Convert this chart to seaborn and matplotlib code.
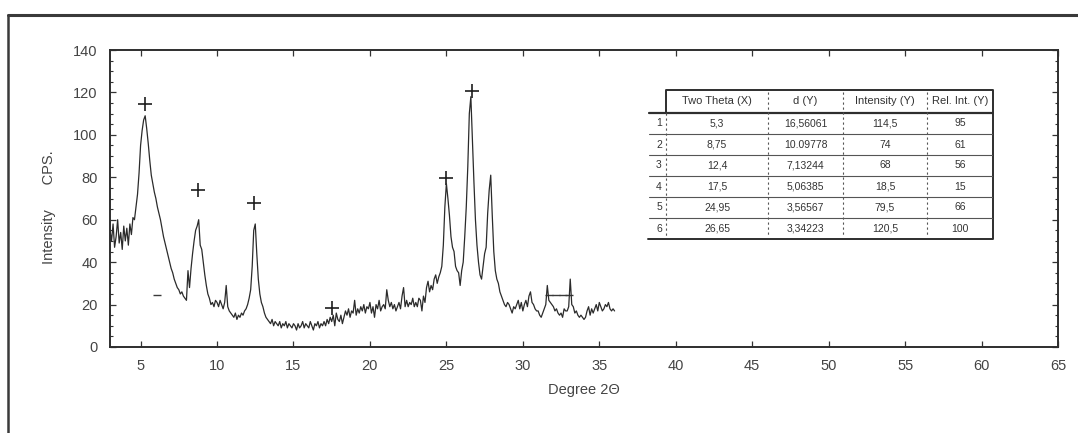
import numpy as np
import pandas as pd
import matplotlib
matplotlib.use('Agg')
import matplotlib.pyplot as plt
from matplotlib.lines import Line2D
from matplotlib.ticker import MultipleLocator
import seaborn as sns

# XRD scan at 0.1 degree steps (3.0 .. 36.0)
two_theta = np.round(np.arange(3.0, 36.05, 0.1), 2)
intensity = [
    55, 50, 58, 47, 52, 60, 49, 54, 46, 57,   # 3
    50, 56, 48, 58, 53, 61, 60, 66, 72, 82,   # 4
    95, 102, 107, 109, 103, 96, 88, 81, 77, 73,  # 5
    70, 66, 63, 60, 56, 52, 49, 46, 43, 40,   # 6
    37, 35, 32, 30, 28, 27, 25, 26, 24, 23,   # 7
    22, 36, 28, 37, 44, 50, 55, 57, 60, 48,   # 8
    46, 40, 34, 29, 25, 23, 20, 21, 19, 22,   # 9
    21, 19, 22, 20, 18, 21, 29, 19, 17, 16,   # 10
    15, 14, 16, 13, 15, 14, 16, 15, 17, 18,   # 11
    20, 23, 27, 38, 55, 58, 44, 32, 25, 21,   # 12
    19, 16, 14, 13, 12, 11, 13, 10, 12, 11,   # 13
    10, 12, 9, 11, 10, 12, 9, 11, 10, 9,      # 14
    11, 10, 8, 11, 9, 10, 12, 9, 11, 10,      # 15
    9, 12, 10, 8, 11, 10, 12, 9, 11, 10,      # 16
    12, 10, 13, 11, 14, 12, 15, 10, 16, 13,   # 17
    12, 15, 11, 14, 17, 15, 18, 14, 17, 16,   # 18
    22, 15, 18, 16, 19, 17, 20, 16, 19, 18,   # 19
    21, 16, 19, 14, 20, 18, 22, 17, 19, 20,   # 20
    18, 27, 22, 19, 21, 18, 20, 17, 19, 21,   # 21
    18, 24, 28, 19, 22, 19, 21, 20, 23, 19,   # 22
    21, 19, 23, 22, 17, 24, 21, 28, 31, 26,   # 23
    29, 27, 32, 34, 30, 33, 35, 38, 48, 66,   # 24
    77, 70, 62, 52, 47, 45, 38, 36, 35, 29,   # 25
    36, 40, 52, 66, 85, 110, 118, 98, 78, 60,  # 26
    48, 40, 34, 32, 38, 44, 47, 63, 74, 81,   # 27
    62, 45, 36, 32, 30, 26, 24, 22, 20, 19,   # 28
    21, 20, 18, 16, 19, 18, 20, 22, 18, 21,   # 29
    17, 20, 22, 19, 24, 26, 21, 20, 18, 17,   # 30
    17, 15, 14, 16, 18, 20, 29, 22, 21, 20,   # 31
    19, 17, 18, 16, 15, 16, 14, 18, 17, 17,   # 32
    19, 32, 20, 19, 16, 17, 15, 14, 15, 14,   # 33
    13, 14, 17, 19, 15, 18, 16, 18, 20, 17,   # 34
    21, 19, 17, 18, 20, 19, 21, 18, 17, 18,   # 35
    17,
]

# peak list (table + crosses)
row_no = ['1', '2', '3', '4', '5', '6']
peak_x = [5.3, 8.75, 12.4, 17.5, 24.95, 26.65]
peak_x_txt = ['5,3', '8,75', '12,4', '17,5', '24,95', '26,65']
d_txt = ['16,56061', '10.09778', '7,13244', '5,06385', '3,56567', '3,34223']
peak_int = [114.5, 74, 68, 18.5, 79.5, 120.5]
int_txt = ['114,5', '74', '68', '18,5', '79,5', '120,5']
rel_txt = ['95', '61', '56', '15', '66', '100']
headers = ['Two Theta (X)', 'd (Y)', 'Intensity (Y)', 'Rel. Int. (Y)']

# small dash marks on the trace
dash_x = [6.05, 31.7, 32.2, 32.6, 33.05]
dash_y = [24.5, 24.5, 24.5, 24.5, 24.5]

df = pd.DataFrame({'two_theta': two_theta, 'cps': intensity})

sns.set_style('ticks')
plt.rcParams['font.family'] = ['Liberation Sans', 'DejaVu Sans']

fig = plt.figure(figsize=(10.78, 4.33), dpi=100)
W, H = 1078, 433
ax = fig.add_axes([110 / W, 1 - 347 / H, 948 / W, 297 / H])

sns.lineplot(data=df, x='two_theta', y='cps', ax=ax, color='#2b2b2b', linewidth=0.9)
sns.scatterplot(x=peak_x, y=peak_int, ax=ax, marker='+', s=110, color='#1e1e1e', linewidth=1.2)
sns.scatterplot(x=dash_x, y=dash_y, ax=ax, marker='_', s=40, color='#3a3a3a', linewidth=1.0)

ax.set_xlim(3, 65)
ax.set_ylim(0, 140)
ax.xaxis.set_major_locator(MultipleLocator(5))
ax.yaxis.set_major_locator(MultipleLocator(20))
ax.yaxis.set_minor_locator(MultipleLocator(5))
ax.tick_params(axis='both', which='major', direction='in', top=True, right=True,
               length=4, width=0.9, colors='#333333', labelsize=10.5, pad=9)
ax.tick_params(axis='both', labelcolor='#444444')
ax.tick_params(axis='y', which='minor', direction='in', right=True, length=2.5, width=0.8, colors='#333333')
for s in ax.spines.values():
    s.set_linewidth(1.4)
    s.set_color('#2e2e2e')

ax.set_xlabel('Degree 2\u0398', fontsize=10.5, color='#444444')
ax.set_ylabel('Intensity      CPS.', fontsize=10.5, color='#444444')
ax.xaxis.set_label_coords(0.5, -0.12)
ax.yaxis.set_label_coords(-0.057, 0.47)

# outer frame (top and left lines)
fig.add_artist(Line2D([8 / W, 1.0], [1 - 15 / H, 1 - 15 / H], color='#3a3a3a', lw=2.2))
fig.add_artist(Line2D([8 / W, 8 / W], [1 - 15 / H, 0], color='#3a3a3a', lw=1.8))

# peak table, drawn in its own pixel-like frame
tx0, tx1, ty0, ty1 = 648, 993, 90, 239
hx0 = 666
tab = fig.add_axes([tx0 / W, 1 - ty1 / H, (tx1 - tx0) / W, (ty1 - ty0) / H])
tab.set_xlim(tx0, tx1)
tab.set_ylim(ty1, ty0)
tab.axis('off')
tab.patch.set_visible(False)

col_edges = [tx0, hx0, 768, 843, 927, tx1]
row_edges = [90, 113, 134, 155, 176, 197, 218, 239]
# header box starts at the first column, body rows run further left
tab.plot([hx0, hx0, tx1, tx1], [113, ty0, ty0, 113], color='#2e2e2e', lw=1.4, clip_on=False)
tab.plot([tx1, tx1, tx0], [113, ty1, ty1], color='#2e2e2e', lw=1.4, clip_on=False)
tab.plot([tx0 + 1, tx1], [113, 113], color='#2e2e2e', lw=1.6)
for yy in row_edges[2:-1]:
    tab.plot([tx0 + 1, tx1], [yy, yy], color='#555555', lw=0.8)
tab.plot([hx0, hx0], [113, ty1 - 2], color='#555555', lw=0.8, ls=(0, (2, 2.5)))
for xx in col_edges[2:-1]:
    tab.plot([xx, xx], [ty0 + 2, ty1 - 2], color='#555555', lw=0.8, ls=(0, (2, 2.5)))

centers = [(col_edges[i] + col_edges[i + 1]) / 2 for i in range(len(col_edges) - 1)]
for j, h in enumerate(headers):
    tab.text(centers[j + 1], 101.5, h, ha='center', va='center', fontsize=8, color='#333333')
for i in range(len(row_no)):
    yc = (row_edges[i + 1] + row_edges[i + 2]) / 2
    tab.text(centers[0] + 2, yc, row_no[i], ha='center', va='center', fontsize=7.5, color='#333333')
    for j, t in enumerate([peak_x_txt[i], d_txt[i], int_txt[i], rel_txt[i]]):
        tab.text(centers[j + 1], yc, t, ha='center', va='center', fontsize=7.5, color='#333333')

fig.savefig('out.png', dpi=100)
